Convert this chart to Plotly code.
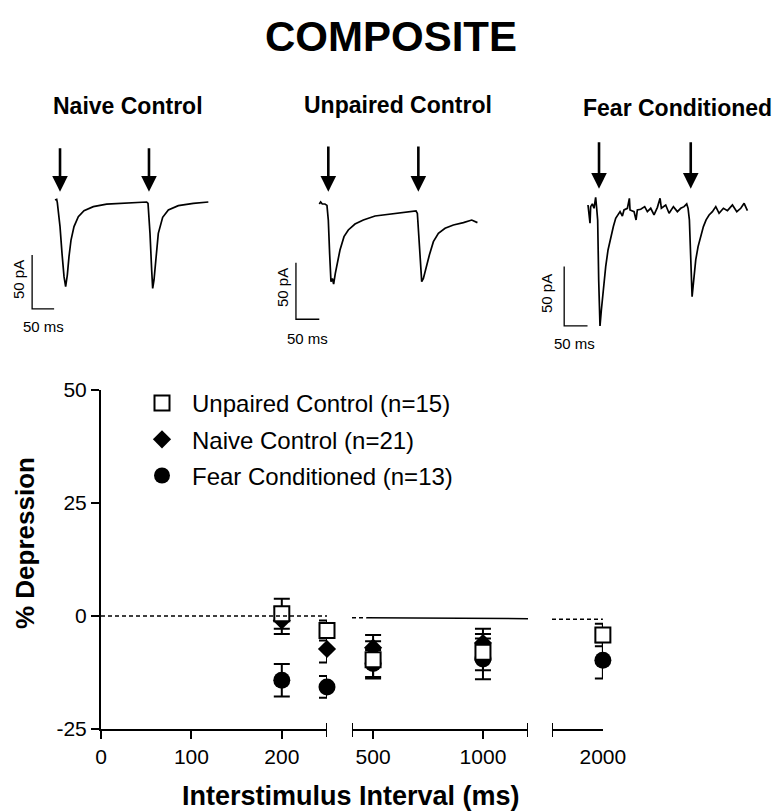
import plotly.graph_objects as go

W, H = 774, 812
FONT = "Liberation Sans, Arial, sans-serif"

# ---------------- summary data (% depression, mean +/- SEM) ----------------
isi_ms = [200, 250, 500, 1000, 2000]
unpaired_mean = [0.5, -3.2, -9.7, -8.0, -4.2]
unpaired_sem = [3.3, 2.2, 4.1, 4.0, 2.5]
naive_mean = [-1.0, -7.3, -7.0, -6.0, None]
naive_sem = [3.0, 3.0, 2.8, 3.2, None]
fear_mean = [-14.2, -15.7, -10.5, -9.5, -9.8]
fear_sem = [3.6, 2.4, 3.0, 4.5, 4.0]

seg1_ticks = [0, 100, 200]
seg2_ticks = [500, 1000]
seg3_ticks = [2000]
y_ticks = [-25, 0, 25, 50]
y_tick_labels = ["-25", "0", "25", "50"]

# ---------------- example traces (time ms, current pA) ----------------
naive_t = [0, 3.8, 5.3, 11.4, 15.9, 20.5, 24.2, 28.0, 31.8, 36.4, 43.2, 53.0, 65.9, 87.1,
           117.4, 162.9, 208.3, 211.4, 215.9, 219.7, 222.0, 225.0, 228.8, 234.8, 244.7,
           257.6, 280.3, 314.4, 348.5]
naive_i = [1.9, 2.5, -0.6, -22.8, -47.5, -69.1, -78.4, -67.6, -50.6, -35.2, -22.8, -13.6,
           -8.0, -4.3, -1.9, -0.6, 0.0, -1.2, -29.0, -63.0, -80.0, -72.2, -53.7, -29.0,
           -14.2, -7.4, -3.4, -1.2, 0.0]
naive_stim = [11.4, 213.6]

unpaired_t = [0, 2.9, 6.4, 12.1, 16.4, 19.3, 22.1, 25.0, 27.9, 30.7, 34.3, 38.6, 44.3, 52.9,
              62.1, 76.4, 94.3, 119.3, 151.4, 180.0, 207.1, 210.0, 213.6, 217.1, 219.3,
              222.9, 228.6, 235.7, 244.3, 255.0, 269.3, 287.1, 308.6, 326.4, 338.6]
unpaired_i = [0.0, 1.8, 0.0, 0.0, -1.2, -14.2, -43.7, -68.7, -65.8, -70.8, -61.4, -51.0,
              -40.7, -28.9, -23.0, -17.7, -14.2, -10.6, -8.8, -7.7, -6.2, -8.3, -31.9,
              -61.4, -68.7, -65.8, -55.5, -45.1, -33.3, -26.0, -21.5, -18.6, -16.5, -14.2,
              -16.5]
unpaired_stim = [19.3, 212.1]

fear_t = [0, 2.1, 4.3, 5.7, 9.3, 12.9, 16.4, 18.6, 20.7, 22.9, 25.7, 28.6, 32.9, 37.9, 42.9,
          48.6, 54.3, 59.3, 64.3, 68.6, 73.6, 77.1, 84.3, 88.6, 90.0, 98.6, 102.9, 105.7,
          112.9, 121.4, 127.1, 134.3, 141.4, 148.6, 154.3, 157.1, 166.4, 173.6, 182.9,
          191.4, 198.6, 205.7, 211.4, 214.3, 217.1, 220.0, 222.9, 225.7, 230.7, 235.7,
          241.4, 247.1, 252.9, 259.3, 266.4, 273.6, 280.7, 290.0, 298.6, 309.3, 318.6,
          327.1, 334.3, 341.4]
fear_i = [2.8, -2.8, -12.6, 1.4, 3.7, 0.0, 9.3, 0.0, -9.8, -60.4, -99.2, -85.7, -66.0,
          -49.2, -35.1, -23.9, -15.4, -8.4, -5.6, -2.8, -6.5, -1.4, 0.0, 8.4, -1.4, -2.8,
          -9.8, -1.4, -0.8, 1.4, -2.8, 0.0, -5.6, 0.8, 8.4, 0.0, 2.8, -4.2, 1.4, -2.8, 0.0,
          1.4, 3.7, 0.0, -9.8, -49.2, -74.4, -63.2, -43.5, -32.3, -22.5, -15.4, -9.8, -5.6,
          -2.8, 1.4, -4.2, 0.0, -2.0, 2.8, -2.8, 0.0, 4.2, -2.0]
fear_stim = [23.6, 220.0]

scale_ms = 50
scale_pA = 50


def fx(px):
    return px / W


def fy(py):
    return 1 - py / H


fig = go.Figure()

# ---------------- main plot (broken x axis) ----------------
def seg_axis(x):
    if x <= 250:
        return "x"
    if x <= 1300:
        return "x2"
    return "x3"


series = [
    ("Fear Conditioned (n=13)", fear_mean, fear_sem,
     dict(symbol="circle", size=17, color="black"), 3),
    ("Naive Control (n=21)", naive_mean, naive_sem,
     dict(symbol="diamond", size=14, color="black"), 2),
    ("Unpaired Control (n=15)", unpaired_mean, unpaired_sem,
     dict(symbol="square", size=15, color="white", line=dict(color="black", width=2)), 1),
]

for name, mean, sem, marker, rank in series:
    first = True
    for ax in ["x", "x2", "x3"]:
        xs, ys, es = [], [], []
        for x, m, s in zip(isi_ms, mean, sem):
            if m is None or seg_axis(x) != ax:
                continue
            xs.append(x)
            ys.append(m)
            es.append(s)
        if not xs:
            continue
        fig.add_trace(go.Scatter(
            x=xs, y=ys, xaxis=ax, yaxis="y", mode="markers", name=name,
            marker=marker, legendgroup=name, showlegend=first, legendrank=rank,
            cliponaxis=False,
            error_y=dict(type="data", array=es, visible=True, color="black",
                         thickness=2, width=8),
        ))
        first = False

# ---------------- inset traces ----------------
insets = [
    ("Naive Control", naive_t, naive_i, naive_stim, 4, (55, 0.44, 202, 1.08),
     (8, 232, 120, 345), (-52, -99), (9.6, 51.2)),
    ("Unpaired Control", unpaired_t, unpaired_i, unpaired_stim, 5, (319.3, 0.467, 204, 1.13),
     (262, 522, 120, 345), (-50, -102), (10.9, 52.2)),
    ("Fear Conditioned", fear_t, fear_i, fear_stim, 6, (588, 0.467, 208.3, 1.187),
     (532, 772, 120, 360), (-51, -99), (16.5, 57.0)),
]

annotations = []
layout_axes = {}
for name, t, cur, stim, k, (a, b, c, d), (px0, px1, py0, py1), (ct, cp), (tip, tail) in insets:
    xa, ya = f"x{k}", f"y{k}"
    layout_axes[f"xaxis{k}"] = dict(domain=[fx(px0), fx(px1)],
                                    range=[(px0 - a) / b, (px1 - a) / b],
                                    visible=False, anchor=ya, fixedrange=True,
                                    automargin=False)
    layout_axes[f"yaxis{k}"] = dict(domain=[fy(py1), fy(py0)],
                                    range=[(c - py1) / d, (c - py0) / d],
                                    visible=False, anchor=xa, fixedrange=True,
                                    automargin=False)
    fig.add_trace(go.Scatter(x=t, y=cur, xaxis=xa, yaxis=ya, mode="lines",
                             line=dict(color="black", width=1.7), showlegend=False,
                             cliponaxis=False))
    fig.add_trace(go.Scatter(x=[ct, ct, ct + scale_ms], y=[cp + scale_pA, cp, cp],
                             xaxis=xa, yaxis=ya, mode="lines",
                             line=dict(color="black", width=1.3), showlegend=False))
    for s in stim:
        annotations.append(dict(x=s, y=tip, ax=s, ay=tail, xref=xa, yref=ya,
                                axref=xa, ayref=ya, text="", showarrow=True,
                                arrowhead=2, arrowsize=1.2, arrowwidth=2.6,
                                arrowcolor="black", standoff=0))


def txt(text, px, py, size, bold=False, angle=0, xanchor="center"):
    if bold:
        text = f"<b>{text}</b>"
    annotations.append(dict(text=text, x=fx(px), y=fy(py), xref="paper", yref="paper",
                            showarrow=False, xanchor=xanchor, yanchor="middle",
                            textangle=angle, font=dict(family=FONT, size=size, color="black")))


txt("COMPOSITE", 391, 36, 42, bold=True)
txt("Naive Control", 128, 106, 23, bold=True)
txt("Unpaired Control", 398, 105, 23, bold=True)
txt("Fear Conditioned", 677, 108, 23, bold=True)
txt("50 pA", 18, 280, 15, angle=-90)
txt("50 ms", 43, 326, 15)
txt("50 pA", 282, 288, 15, angle=-90)
txt("50 ms", 307, 338, 15)
txt("50 pA", 547, 294, 15, angle=-90)
txt("50 ms", 574, 343, 15)
txt("% Depression", 25, 543, 26, bold=True, angle=-90)
txt("Interstimulus Interval (ms)", 351, 796, 27, bold=True)

shapes = [
    dict(type="line", xref="x", yref="y", x0=0, x1=250, y0=0, y1=0,
         line=dict(color="black", width=1.5, dash="4px,3px")),
    dict(type="line", xref="x2", yref="y", x0=404, x1=470, y0=-0.4, y1=-0.4,
         line=dict(color="black", width=1.5, dash="4px,3px")),
    dict(type="line", xref="x2", yref="y", x0=470, x1=1205, y0=-0.4, y1=-0.6,
         line=dict(color="black", width=1.5)),
    dict(type="line", xref="x3", yref="y", x0=1800, x1=2000, y0=-0.7, y1=-0.7,
         line=dict(color="black", width=1.5, dash="4px,3px")),
]
for xr, xv in [("x", 250), ("x2", 404), ("x2", 1205), ("x3", 1800)]:
    shapes.append(dict(type="line", xref=xr, yref="paper", x0=xv, x1=xv,
                       y0=fy(737), y1=fy(723), line=dict(color="black", width=2)))

axis_common = dict(showline=True, linecolor="black", linewidth=2, ticks="outside",
                   ticklen=8, tickwidth=2, tickcolor="black", showgrid=False,
                   zeroline=False, tickfont=dict(family=FONT, size=21, color="black"),
                   fixedrange=True, automargin=False)

fig.update_layout(
    template="none",
    width=W, height=H, autosize=False,
    margin=dict(l=0, r=0, t=0, b=0, pad=0, autoexpand=False),
    paper_bgcolor="white", plot_bgcolor="rgba(0,0,0,0)",
    font=dict(family=FONT, color="black"),
    xaxis=dict(domain=[fx(101), fx(327)], range=[0, 250], tickvals=seg1_ticks,
               anchor="y", **axis_common),
    xaxis2=dict(domain=[fx(352), fx(528)], range=[404, 1205], tickvals=seg2_ticks,
                anchor="y", **axis_common),
    xaxis3=dict(domain=[fx(552), fx(603)], range=[1800, 2000.5], tickvals=seg3_ticks,
                anchor="y", **{**axis_common, "tickcolor": "rgba(0,0,0,0)"}),
    yaxis=dict(domain=[fy(729), fy(390)], range=[-25, 50], tickvals=y_ticks,
               ticktext=y_tick_labels, anchor="x", **axis_common),
    legend=dict(x=fx(132), y=fy(381), xanchor="left", yanchor="top",
                font=dict(family=FONT, size=24, color="black"), itemwidth=50,
                bgcolor="rgba(0,0,0,0)", tracegroupgap=2, traceorder="grouped"),
    annotations=annotations,
    shapes=shapes,
    **layout_axes,
)

fig.write_html("out.html")
